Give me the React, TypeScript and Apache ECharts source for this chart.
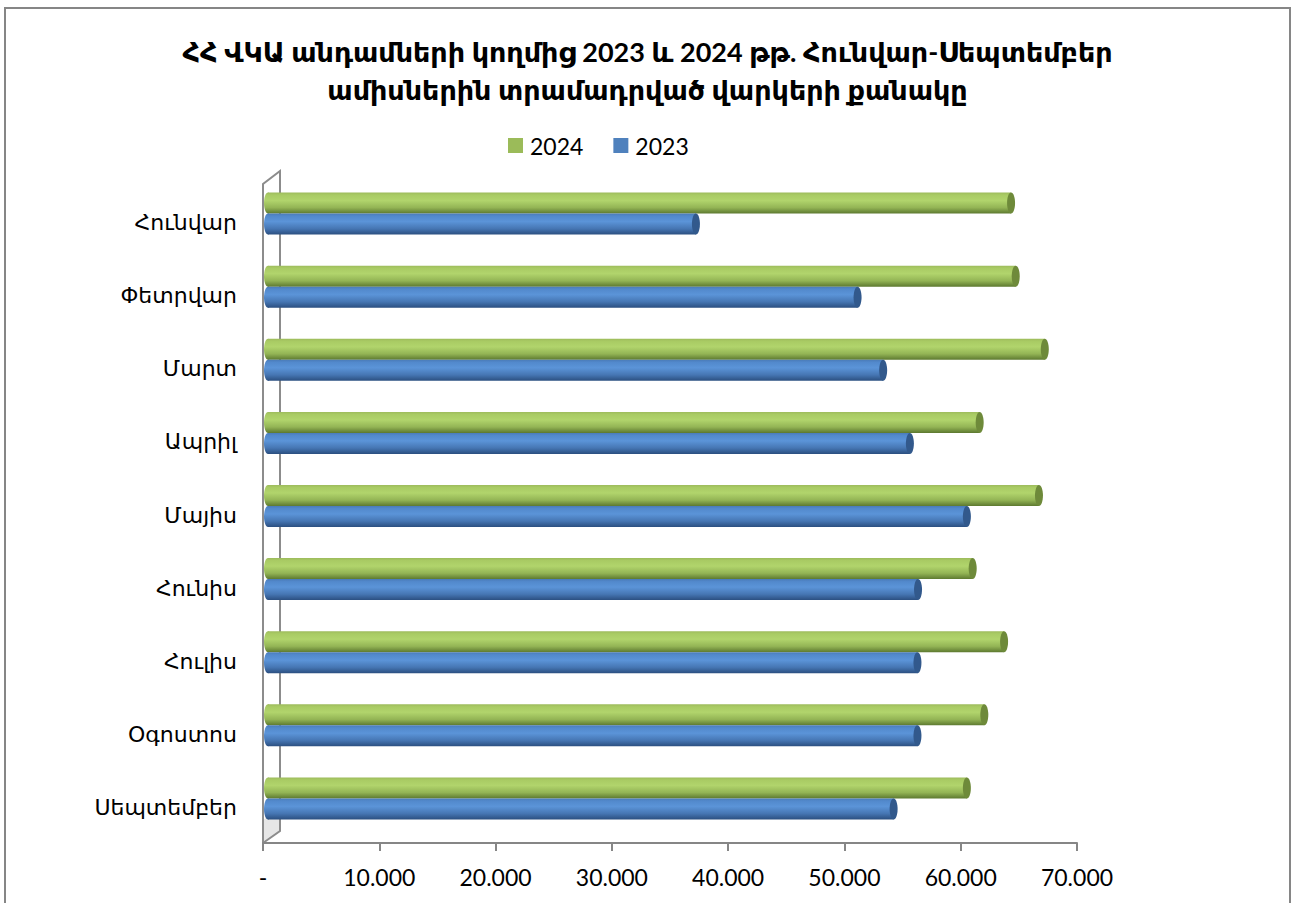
import React, { useEffect, useRef } from "react";
import * as echarts from "echarts";

const months = ["Հունվար", "Փետրվար", "Մարտ", "Ապրիլ", "Մայիս", "Հունիս", "Հուլիս", "Օգոստոս", "Սեպտեմբեր"];
const values2024 = [63900, 64300, 66800, 61200, 66300, 60600, 63300, 61600, 60100];
const values2023 = [36800, 50700, 52900, 55200, 60100, 55900, 55850, 55850, 53800];
const xTicks = [0, 10000, 20000, 30000, 40000, 50000, 60000, 70000];
const title = "ՀՀ ՎԿԱ անդամների կողմից 2023 և 2024 թթ. Հունվար-Սեպտեմբեր\nամիսներին տրամադրված վարկերի քանակը";

const FONT = "Lato, 'DejaVu Sans', sans-serif";

const BAR_H = 21;
const DX = 5;
const DY = -8;

function makeRender(kind: "green" | "blue") {
  const grad =
    kind === "green"
      ? [
          { offset: 0, color: "#9dbb5c" },
          { offset: 0.12, color: "#a9cb64" },
          { offset: 0.38, color: "#b1d46c" },
          { offset: 0.72, color: "#93b455" },
          { offset: 1, color: "#5d7930" },
        ]
      : [
          { offset: 0, color: "#4a7bb8" },
          { offset: 0.12, color: "#5289cc" },
          { offset: 0.38, color: "#5b94d8" },
          { offset: 0.72, color: "#4676b3" },
          { offset: 1, color: "#2b4f80" },
        ];
  const capColor = kind === "green" ? "#6e8a3a" : "#32598c";
  const yOff = kind === "green" ? -BAR_H : 0;
  return (params: any, api: any) => {
    const v = api.value(0);
    const c = api.value(1);
    const p0 = api.coord([0, c]);
    const p1 = api.coord([v, c]);
    const x0 = p0[0] + DX;
    const x1 = p1[0] + DX;
    const y = p0[1] + DY + yOff;
    const fill = new echarts.graphic.LinearGradient(0, 0, 0, 1, grad);
    return {
      type: "group",
      children: [
        {
          type: "ellipse",
          shape: { cx: x0, cy: y + BAR_H / 2, rx: 4, ry: BAR_H / 2 },
          style: { fill },
        },
        {
          type: "rect",
          shape: { x: x0, y, width: x1 - x0, height: BAR_H },
          style: { fill },
        },
        {
          type: "ellipse",
          shape: { cx: x1, cy: y + BAR_H / 2, rx: 4, ry: BAR_H / 2 },
          style: { fill: capColor },
        },
      ],
    };
  };
}

export default function App() {
  const ref = useRef<HTMLDivElement>(null);
  useEffect(() => {
    document.body.style.margin = "0";
    const chart = echarts.init(ref.current!, undefined, { renderer: "svg" });
    const data24 = months.map((m, i) => [values2024[i], i]);
    const data23 = months.map((m, i) => [values2023[i], i]);
    chart.setOption({
      animation: false,
      backgroundColor: "#ffffff",
      textStyle: { fontFamily: FONT },
      title: {
        text: title,
        left: "center",
        top: 27,
        textStyle: {
          fontFamily: FONT,
          fontSize: 27,
          fontWeight: "bold",
          color: "#000",
          lineHeight: 38,
        },
      },
      legend: {
        left: 503,
        top: 129,
        itemWidth: 15,
        itemHeight: 15,
        itemGap: 30,
        icon: "rect",
        data: ["2024", "2023"],
        textStyle: { fontFamily: FONT, fontSize: 23, color: "#000", padding: [0, 0, 0, 2] },
      },
      grid: { left: 263, right: 218, top: 185, height: 658 },
      xAxis: {
        type: "value",
        min: 0,
        max: 70000,
        interval: 10000,
        axisLine: { show: true, lineStyle: { color: "#868686", width: 2 } },
        axisTick: { show: true, length: 8, lineStyle: { color: "#868686", width: 2 } },
        splitLine: { show: false },
        axisLabel: {
          fontFamily: FONT,
          fontSize: 23,
          color: "#000",
          margin: 22,
          formatter: (v: number) => {
            if (xTicks.indexOf(v) < 0) return "";
            if (v === 0) return "-";
            return String(v).replace(/\B(?=(\d{3})+(?!\d))/g, ".");
          },
        },
      },
      yAxis: {
        type: "category",
        inverse: true,
        data: months,
        axisLine: { show: false },
        axisTick: { show: false },
        axisLabel: { fontFamily: FONT, fontSize: 22, color: "#000", margin: 26 },
      },
      graphic: [
        {
          type: "rect",
          shape: { x: 5, y: 8, width: 1285, height: 910 },
          style: { fill: "none", stroke: "#868686", lineWidth: 2 },
          silent: true,
          z: -10,
        },
        {
          type: "polygon",
          shape: { points: [[263, 820], [280, 808], [280, 831], [263, 843]] },
          style: { fill: "#e6e6e6", stroke: "none" },
          silent: true,
          z: -5,
        },
        {
          type: "polyline",
          shape: { points: [[263, 843], [263, 184], [280, 171], [280, 831], [263, 843]] },
          style: { fill: "none", stroke: "#8c8c8c", lineWidth: 2 },
          silent: true,
          z: -4,
        },
      ],
      series: [
        {
          name: "2024",
          type: "custom",
          renderItem: makeRender("green"),
          encode: { x: 0, y: 1 },
          data: data24,
          itemStyle: { color: "#9bbb59" },
          z: 3,
        },
        {
          name: "2023",
          type: "custom",
          renderItem: makeRender("blue"),
          encode: { x: 0, y: 1 },
          data: data23,
          itemStyle: { color: "#4f81bd" },
          z: 3,
        },
      ],
    });
    return () => chart.dispose();
  }, []);
  return <div ref={ref} style={{ position: "fixed", left: 0, top: 0, width: 1295, height: 903 }} />;
}
